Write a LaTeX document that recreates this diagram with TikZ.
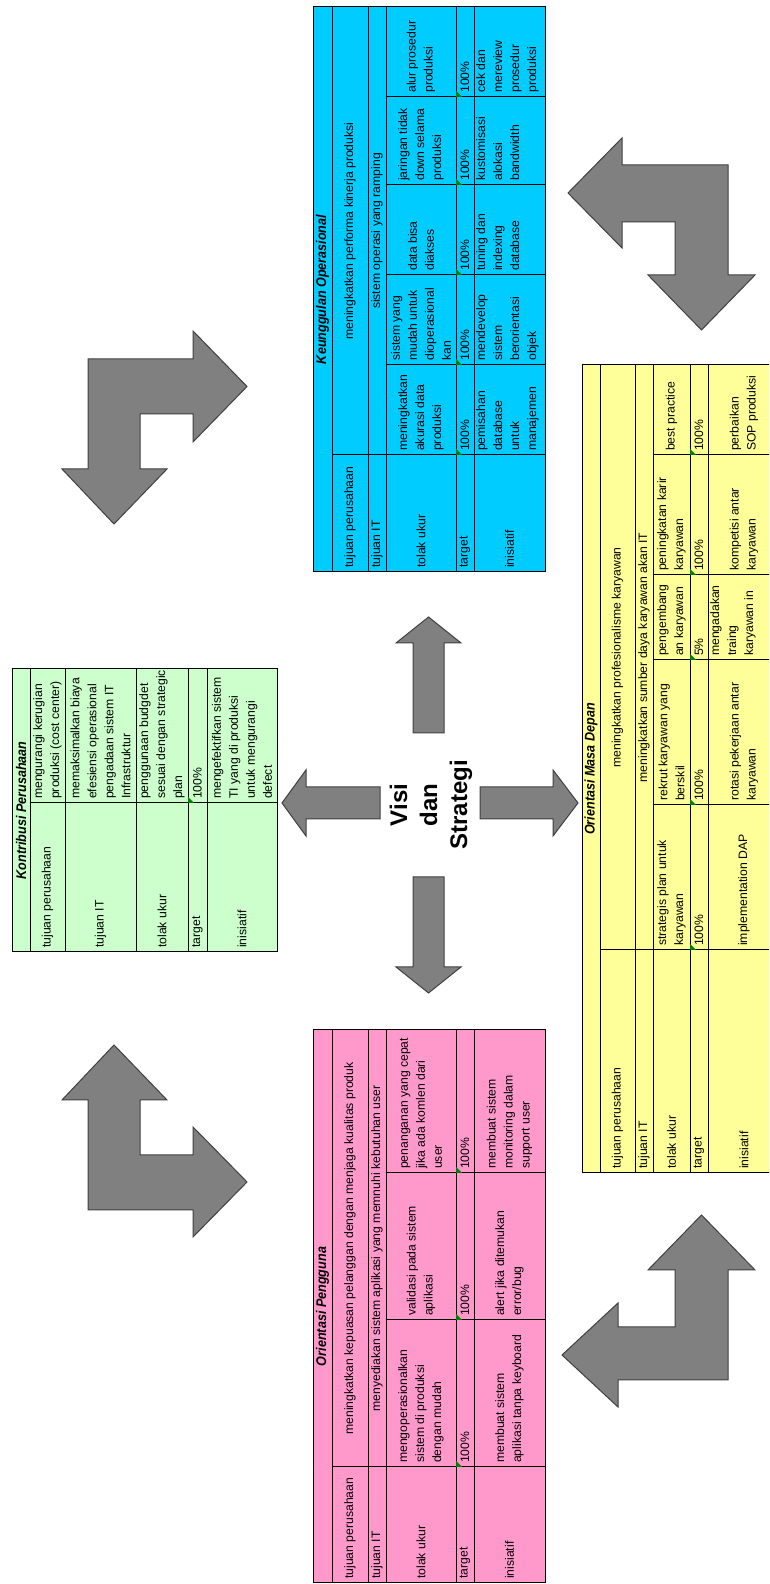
\documentclass[tikz,border=0pt]{standalone}
\usepackage{fontspec}
\setmainfont{Liberation Sans}
\newfontfamily\cellfont{Liberation Sans}
\newfontfamily\ttlfont[FakeStretch=0.9]{Liberation Sans}
\definecolor{kgreen}{HTML}{CCFFCC}
\definecolor{kblue}{HTML}{00CCFF}
\definecolor{kpink}{HTML}{FF99CC}
\definecolor{kyellow}{HTML}{FFFF99}
\definecolor{arrgray}{HTML}{808080}
\definecolor{arrdark}{HTML}{404040}
\definecolor{tickgreen}{HTML}{008000}
\tikzset{
  tbl/.style={draw=black, line width=1pt},
  sep/.style={draw=black, line width=1pt},
  arr/.style={fill=arrgray, draw=arrdark, line width=1pt, line join=miter},
  cell/.style={font=\cellfont\fontsize{12.2}{17}\selectfont, inner sep=0pt, align=left, anchor=west},
  celltop/.style={cell, anchor=north west},
  cellmid/.style={cell, anchor=center, align=center},
  ttl/.style={font=\ttlfont\bfseries\itshape\fontsize{14}{16}\selectfont, inner sep=0pt, anchor=center},
  ctr/.style={font=\bfseries\fontsize{24}{30}\selectfont, align=center, inner sep=0pt},
  xltick/.style={fill=tickgreen},
}
\begin{document}
\begin{tikzpicture}[x={(0pt,1pt)}, y={(1pt,0pt)}, every node/.append style={rotate=90}]
\useasboundingbox (0,0) rectangle (1584,769);
\clip (0,0) rectangle (1584,769);

% ================= GREEN: Kontribusi Perusahaan =================
\draw[tbl, fill=kgreen] (632,12) rectangle (915,277);
\draw[sep] (632,30) -- (915,30) (632,65) -- (915,65) (632,136) -- (915,136)
  (632,188) -- (915,188) (632,207) -- (915,207) (781,30) -- (781,277);
\fill[xltick] (781,188) -- ++(6,0) -- ++(-6,6) -- cycle;
\node[ttl] (g0) at (773.5,21) {Kontribusi Perusahaan};
\node[cell] (gl1) at (636,47.5) {tujuan perusahaan};
\node[cell] (gl2) at (636,100.5) {tujuan IT};
\node[cell] (gl3) at (636,162) {tolak ukur};
\node[cell] (gl4) at (636,197.5) {target};
\node[cell] (gl5) at (636,242) {inisiatif};
\node[cell] (gv1) at (785,47.5) {mengurangi kerugian\\produksi (cost center)};
\node[cell] (gv2) at (785,100.5) {memaksimalkan biaya\\efesiensi operasional\\pengadaan sistem IT\\Infrastruktur};
\node[cell] (gv3) at (785,162) {penggunaan budgdet\\sesuai dengan strategic\\plan};
\node[cell] (gv4) at (785,197.5) {100\%};
\node[cell] (gv5) at (785,242) {mengefektifkan sistem\\TI yang di produksi\\untuk mengurangi\\defect};

% ================= PINK: Orientasi Pengguna =================
\draw[tbl, fill=kpink] (1,313) rectangle (554,545);
\draw[sep] (1,332) -- (554,332) (1,368) -- (554,368) (1,386) -- (554,386)
  (1,456) -- (554,456) (1,474) -- (554,474) (117,332) -- (117,545)
  (264,386) -- (264,545) (411,386) -- (411,545);
\foreach \t in {117,264,411} \fill[xltick] (\t,456) -- ++(6,0) -- ++(-6,6) -- cycle;
\node[ttl] (p0) at (277.5,322.5) {Orientasi Pengguna};
\node[cell] (pl1) at (5,350) {tujuan perusahaan};
\node[cell] (pl2) at (5,377) {tujuan IT};
\node[cell] (pl3) at (5,421) {tolak ukur};
\node[cell] (pl4) at (5,465) {target};
\node[cell] (pl5) at (5,509.5) {inisiatif};
\node[cellmid] (pv1) at (335.5,350) {meningkatkan kepuasan pelanggan dengan menjaga kualitas produk};
\node[cellmid] (pv2) at (335.5,377) {menyediakan sistem aplikasi yang memnuhi kebutuhan user};
\node[cell] (pa3) at (121,421) {mengoperasionalkan\\sistem di produksi\\dengan mudah};
\node[cell] (pb3) at (268,421) {validasi pada sistem\\aplikasi};
\node[cell] (pc3) at (415,421) {penanganan yang cepat\\jika ada komlen dari\\user};
\node[cell] (pa4) at (121,465) {100\%};
\node[cell] (pb4) at (268,465) {100\%};
\node[cell] (pc4) at (415,465) {100\%};
\node[cell] (pa5) at (121,509.5) {membuat sistem\\aplikasi tanpa keyboard};
\node[cell] (pb5) at (268,509.5) {alert jika ditemukan\\error/bug};
\node[cell] (pc5) at (415,509.5) {membuat sistem\\monitoring dalam\\support user};

% ================= BLUE: Keunggulan Operasional =================
\draw[tbl, fill=kblue] (1012,313) rectangle (1577,545);
\draw[sep] (1012,332) -- (1577,332) (1012,368) -- (1577,368) (1012,386) -- (1577,386)
  (1012,456) -- (1577,456) (1012,474) -- (1577,474) (1129,332) -- (1129,545)
  (1219,386) -- (1219,545) (1309,386) -- (1309,545) (1399,386) -- (1399,545)
  (1487,386) -- (1487,545);
\foreach \t in {1129,1219,1309,1399,1487} \fill[xltick] (\t,456) -- ++(6,0) -- ++(-6,6) -- cycle;
\node[ttl] (b0) at (1294.5,322.5) {Keunggulan Operasional};
\node[cell] (bl1) at (1016,350) {tujuan perusahaan};
\node[cell] (bl2) at (1016,377) {tujuan IT};
\node[cell] (bl3) at (1016,421) {tolak ukur};
\node[cell] (bl4) at (1016,465) {target};
\node[cell] (bl5) at (1016,509.5) {inisiatif};
\node[cellmid] (bv1) at (1353,350) {meningkatkan performa kinerja produksi};
\node[cellmid] (bv2) at (1353,377) {sistem operasi yang ramping};
\node[cell] (ba3) at (1133,421) {meningkatkan\\akurasi data\\produksi};
\node[cell] (bb3) at (1223,421) {sistem yang\\mudah untuk\\dioperasional\\kan};
\node[cell] (bc3) at (1313,421) {data bisa\\diakses};
\node[cell] (bd3) at (1403,421) {jaringan tidak\\down selama\\produksi};
\node[cell] (be3) at (1491,421) {alur prosedur\\produksi};
\node[cell] (ba4) at (1133,465) {100\%};
\node[cell] (bb4) at (1223,465) {100\%};
\node[cell] (bc4) at (1313,465) {100\%};
\node[cell] (bd4) at (1403,465) {100\%};
\node[cell] (be4) at (1491,465) {100\%};
\node[celltop] (ba5) at (1133,476) {pemisahan\\database\\untuk\\manajemen};
\node[celltop] (bb5) at (1223,476) {mendevelop\\sistem\\berorientasi\\objek};
\node[celltop] (bc5) at (1313,476) {tuning dan\\indexing\\database};
\node[celltop] (bd5) at (1403,476) {kustomisasi\\alokasi\\bandwidth};
\node[celltop] (be5) at (1491,476) {cek dan\\mereview\\prosedur\\produksi};

% ================= YELLOW: Orientasi Masa Depan =================
\draw[tbl, fill=kyellow] (411,582) rectangle (1219,780);
\draw[sep] (411,600) -- (1219,600) (411,635) -- (1219,635) (411,653) -- (1219,653)
  (411,690) -- (1219,690) (411,708) -- (1219,708) (634,600) -- (634,780)
  (779,653) -- (779,780) (924,653) -- (924,780) (1009,653) -- (1009,780)
  (1129,653) -- (1129,780);
\foreach \t in {634,779,924,1009,1129} \fill[xltick] (\t,690) -- ++(6,0) -- ++(-6,6) -- cycle;
\node[ttl] (y0) at (815,591) {Orientasi Masa Depan};
\node[cell] (yl1) at (415,617.5) {tujuan perusahaan};
\node[cell] (yl2) at (415,644) {tujuan IT};
\node[cell] (yl3) at (415,671.5) {tolak ukur};
\node[cell] (yl4) at (415,699) {target};
\node[cell] (yl5) at (415,744) {inisiatif};
\node[cellmid] (yv1) at (926.5,617.5) {meningkatkan profesionalisme karyawan};
\node[cellmid] (yv2) at (926.5,644) {meningkatkan sumber daya karyawan akan IT};
\node[cell] (ya3) at (638,671.5) {strategis plan untuk\\karyawan};
\node[cell] (yb3) at (783,671.5) {rekrut karyawan yang\\berskil};
\node[cell] (yc3) at (928,671.5) {pengembang\\an karyawan};
\node[cell] (yd3) at (1013,671.5) {peningkatan karir\\karyawan};
\node[cell] (ye3) at (1133,671.5) {best practice};
\node[cell] (ya4) at (638,699) {100\%};
\node[cell] (yb4) at (783,699) {100\%};
\node[cell] (yc4) at (928,699) {5\%};
\node[cell] (yd4) at (1013,699) {100\%};
\node[cell] (ye4) at (1133,699) {100\%};
\node[cell] (ya5) at (638,744) {implementation DAP};
\node[cell] (yb5) at (783,744) {rotasi pekerjaan antar\\karyawan};
\node[celltop] (yc5) at (928,710) {mengadakan\\traing\\karyawan in};
\node[cell] (yd5) at (1013,744) {kompetisi antar\\karyawan};
\node[cell] (ye5) at (1133,744) {perbaikan\\SOP produksi};

% ================= Centre =================
\node[ctr] (vs) at (779,431) {Visi\\dan\\Strategi};
\draw[arr] (765,380) -- (765,306) -- (748,306) -- (781,282) -- (814,306) -- (797,306) -- (797,380) -- cycle;
\draw[arr] (765,480) -- (797,480) -- (797,553) -- (814,553) -- (781,578) -- (748,553) -- (765,553) -- cycle;
\draw[arr] (707,413) -- (617,413) -- (617,396) -- (591,428.5) -- (617,461) -- (617,444) -- (707,444) -- cycle;
\draw[arr] (851,413) -- (941,413) -- (941,396) -- (967,428.5) -- (941,461) -- (941,444) -- (851,444) -- cycle;

% ================= Corner L arrows =================
\draw[arr] (374,88) -- (484,88) -- (484,62) -- (539,114) -- (484,167) -- (484,140) -- (429,140)
  -- (429,193) -- (457,193) -- (402,247) -- (347,193) -- (374,193) -- cycle;
\draw[arr] (1225,88) -- (1115,88) -- (1115,62) -- (1060,114) -- (1115,167) -- (1115,140) -- (1170,140)
  -- (1170,193) -- (1142,193) -- (1197.5,247) -- (1253,193) -- (1225,193) -- cycle;
\draw[arr] (1419,728) -- (1309,728) -- (1309,755) -- (1254,701.5) -- (1309,648) -- (1309,675) -- (1362,675)
  -- (1362,622) -- (1336,622) -- (1391,568) -- (1446,622) -- (1419,622) -- cycle;
\draw[arr] (204,728) -- (314,728) -- (314,755) -- (369,701.5) -- (314,648) -- (314,675) -- (257,675)
  -- (257,618) -- (281,618) -- (229,562) -- (177,618) -- (204,618) -- cycle;
\end{tikzpicture}
\end{document}
